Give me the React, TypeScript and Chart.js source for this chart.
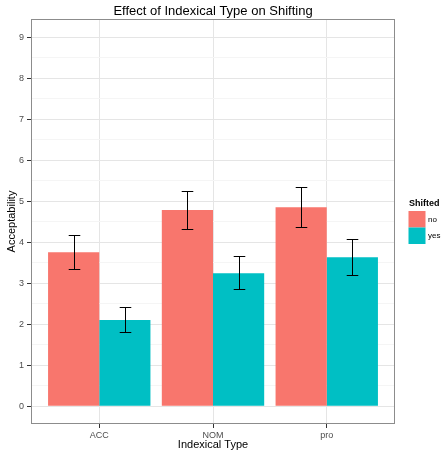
import { useEffect, useRef } from 'react';
import { Chart, registerables } from 'chart.js';

Chart.register(...registerables);

const categories = ['ACC', 'NOM', 'pro'];
const seriesNames = ['no', 'yes'];
const seriesColors = ['#F8766D', '#00BFC4'];
const noValues = [3.76, 4.79, 4.86];
const yesValues = [2.11, 3.25, 3.64];
const noLow = [3.35, 4.32, 4.38];
const noHigh = [4.18, 5.25, 5.34];
const yesLow = [1.81, 2.86, 3.2];
const yesHigh = [2.43, 3.66, 4.09];
const yTickValues = [0, 1, 2, 3, 4, 5, 6, 7, 8, 9];

const titleText = 'Effect of Indexical Type on Shifting';
const xTitle = 'Indexical Type';
const yTitle = 'Acceptability';
const legendTitle = 'Shifted';

const FONT = '"Liberation Sans", Arial, Helvetica, sans-serif';

const errorBars = [
  [noLow, noHigh],
  [yesLow, yesHigh],
];

const decorPlugin = {
  id: 'decor',
  afterDatasetsDraw(chart: any) {
    const ctx = chart.ctx;
    const yScale = chart.scales.y;
    ctx.save();
    ctx.strokeStyle = '#000000';
    ctx.lineWidth = 1;
    errorBars.forEach(([lo, hi], di) => {
      const meta = chart.getDatasetMeta(di);
      meta.data.forEach((el: any, i: number) => {
        const x = Math.round(el.x) + 0.5;
        const half = el.width * 0.113;
        const yl = Math.round(yScale.getPixelForValue(lo[i])) + 0.5;
        const yh = Math.round(yScale.getPixelForValue(hi[i])) + 0.5;
        ctx.beginPath();
        ctx.moveTo(x, yh);
        ctx.lineTo(x, yl);
        ctx.moveTo(x - half, yh);
        ctx.lineTo(x + half, yh);
        ctx.moveTo(x - half, yl);
        ctx.lineTo(x + half, yl);
        ctx.stroke();
      });
    });
    ctx.restore();
  },
  afterDraw(chart: any) {
    const ctx = chart.ctx;
    const a = chart.chartArea;
    ctx.save();
    // panel border
    ctx.strokeStyle = '#8C8C8C';
    ctx.lineWidth = 1;
    ctx.strokeRect(Math.round(a.left) + 0.5, Math.round(a.top) + 0.5, Math.round(a.right - a.left) - 1, Math.round(a.bottom - a.top) - 1);
    // title
    ctx.fillStyle = '#000000';
    ctx.font = `13px ${FONT}`;
    ctx.textAlign = 'center';
    ctx.textBaseline = 'middle';
    ctx.fillText(titleText, (a.left + a.right) / 2, 11);
    // legend
    ctx.textAlign = 'left';
    ctx.font = `bold 9px ${FONT}`;
    ctx.fillText(legendTitle, 409, 204);
    seriesNames.forEach((name, i) => {
      const top = 211 + i * 16.5;
      ctx.fillStyle = seriesColors[i];
      ctx.fillRect(408.5, top, 17, 16.5);
      ctx.fillStyle = '#000000';
      ctx.font = `8px ${FONT}`;
      ctx.fillText(name, 428, top + 8.7);
    });
    ctx.restore();
  },
};

export default function App() {
  const canvasRef = useRef<HTMLCanvasElement | null>(null);

  useEffect(() => {
    document.body.style.margin = '0';
    const canvas = canvasRef.current;
    if (!canvas) return;
    const toPoints = (vals: number[]) => vals.map((v, i) => ({ x: i + 1, y: v }));
    const chart = new Chart(canvas, {
      type: 'bar',
      data: {
        datasets: [
          {
            label: seriesNames[0],
            data: toPoints(noValues),
            backgroundColor: seriesColors[0],
            borderWidth: 0,
            categoryPercentage: 0.9,
            barPercentage: 1.0,
          },
          {
            label: seriesNames[1],
            data: toPoints(yesValues),
            backgroundColor: seriesColors[1],
            borderWidth: 0,
            categoryPercentage: 0.9,
            barPercentage: 1.0,
          },
        ] as any,
      },
      options: {
        responsive: false,
        animation: false,
        devicePixelRatio: 1,
        layout: { padding: { left: 0, right: 47, top: 19, bottom: 0 } },
        plugins: {
          legend: { display: false },
          title: { display: false },
          tooltip: { enabled: false },
        },
        scales: {
          x: {
            type: 'linear',
            min: 0.4,
            max: 3.6,
            offset: false,
            afterBuildTicks: (scale: any) => {
              scale.ticks = categories.map((_, i) => ({ value: i + 1 }));
            },
            afterFit: (scale: any) => {
              scale.height = 28;
            },
            ticks: {
              autoSkip: false,
              maxRotation: 0,
              padding: 2,
              color: '#4D4D4D',
              font: { family: FONT, size: 9 },
              callback: (v: any) => categories[Math.round(Number(v)) - 1] ?? '',
            },
            grid: {
              offset: false,
              color: '#E5E5E5',
              tickColor: '#333333',
              tickLength: 4,
              lineWidth: 1,
            },
            border: { display: false },
            title: {
              display: true,
              text: xTitle,
              color: '#000000',
              font: { family: FONT, size: 11 },
              padding: { top: 0, bottom: 0 },
            },
          },
          y: {
            type: 'linear',
            min: -0.43,
            max: 9.45,
            afterBuildTicks: (scale: any) => {
              const t: any[] = [];
              yTickValues.forEach((v) => {
                t.push({ value: v });
                if (v + 0.5 < 9.45) t.push({ value: v + 0.5 });
              });
              scale.ticks = t;
            },
            afterFit: (scale: any) => {
              scale.width = 31;
            },
            ticks: {
              autoSkip: false,
              padding: 3,
              color: '#4D4D4D',
              font: { family: FONT, size: 9 },
              callback: (v: any) => (Number.isInteger(Number(v)) ? String(v) : ''),
            },
            grid: {
              color: (c: any) => (Number.isInteger(c.tick?.value) ? '#E5E5E5' : '#F5F5F5'),
              tickColor: (c: any) => (Number.isInteger(c.tick?.value) ? '#333333' : 'rgba(0,0,0,0)'),
              tickLength: 4,
              lineWidth: 1,
            },
            border: { display: false },
            title: {
              display: true,
              text: yTitle,
              color: '#000000',
              font: { family: FONT, size: 11 },
              padding: { top: 5, bottom: 0 },
            },
          },
        },
      } as any,
      plugins: [decorPlugin],
    });
    return () => chart.destroy();
  }, []);

  return (
    <div style={{ width: 442, height: 452, background: '#ffffff' }}>
      <canvas ref={canvasRef} width={442} height={452} />
    </div>
  );
}
